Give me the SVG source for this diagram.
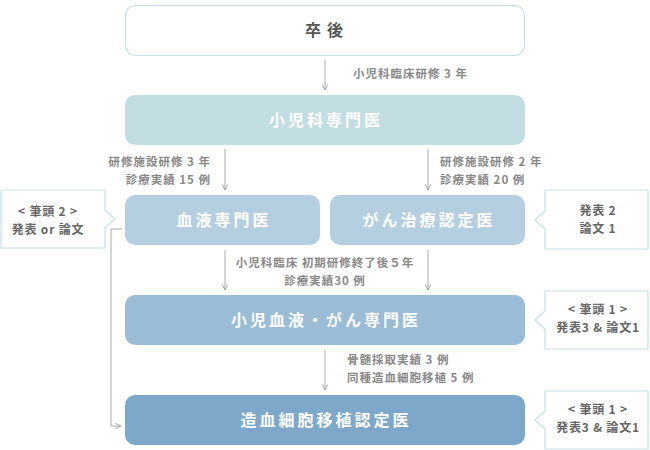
<svg xmlns="http://www.w3.org/2000/svg" width="650" height="450" viewBox="0 0 650 450">
<defs>
<marker id="arr" viewBox="0 0 10 10" refX="9" refY="5" markerWidth="7" markerHeight="7" orient="auto" markerUnits="userSpaceOnUse">
<path d="M1,1 L9,5 L1,9" fill="none" stroke="#999" stroke-width="1.2"/>
</marker>
<style>
text{font-family:"Noto Sans CJK JP","Noto Sans",sans-serif;font-weight:bold}
.node{font-size:16px;fill:#fff;text-anchor:middle;letter-spacing:3px}
.lbl{font-size:11.5px;fill:#888;letter-spacing:1px}
.co{font-size:12px;fill:#666;text-anchor:middle;letter-spacing:0.8px}
.callout{fill:#fff;stroke:#c6dfe7;stroke-width:1.2}
.conn{fill:none;stroke:#aaa;stroke-width:1;marker-end:url(#arr)}
</style>
</defs>
<rect width="650" height="450" fill="#fff"/>

<g id="connectors">
<line class="conn" x1="325" y1="60" x2="325" y2="90"/>
<line class="conn" x1="225" y1="149" x2="225" y2="190"/>
<line class="conn" x1="428" y1="149" x2="428" y2="190"/>
<line class="conn" x1="225" y1="250" x2="225" y2="290"/>
<line class="conn" x1="428" y1="250" x2="428" y2="290"/>
<line class="conn" x1="325" y1="350" x2="325" y2="390"/>
<path class="conn" d="M122,229 H111 V426 H121"/>
</g>

<g id="labels">
<text class="lbl" x="353" y="78">小児科臨床研修 3 年</text>
<text class="lbl" x="211" y="166" text-anchor="end">研修施設研修 3 年</text>
<text class="lbl" x="211" y="184" text-anchor="end">診療実績 15 例</text>
<text class="lbl" x="440" y="166">研修施設研修 2 年</text>
<text class="lbl" x="440" y="184">診療実績 20 例</text>
<text class="lbl" x="325" y="267" text-anchor="middle">小児科臨床 初期研修終了後５年</text>
<text class="lbl" x="325" y="285" text-anchor="middle">診療実績30 例</text>
<text class="lbl" x="347" y="364">骨髄採取実績 3 例</text>
<text class="lbl" x="347" y="382">同種造血細胞移植 5 例</text>
</g>

<g id="n-sotsugo">
<rect x="125.5" y="5.5" width="399" height="50" rx="10" fill="#fff" stroke="#c6dfe7" stroke-width="1.2"/>
<text x="327" y="36" text-anchor="middle" font-size="16" fill="#555" letter-spacing="6">卒後</text>
</g>
<g id="n-shonika">
<rect x="125" y="95" width="400" height="50" rx="10" fill="#c2dee3"/>
<text class="node" x="326" y="126">小児科専門医</text>
</g>
<g id="n-ketsueki">
<rect x="125" y="195" width="195" height="50" rx="10" fill="#b4cfe0"/>
<text class="node" x="224" y="226">血液専門医</text>
</g>
<g id="n-gan">
<rect x="330" y="195" width="195" height="50" rx="10" fill="#b4cfe0"/>
<text class="node" x="429" y="226">がん治療認定医</text>
</g>
<g id="n-shoni-ketsueki">
<rect x="125" y="295" width="400" height="50" rx="10" fill="#9bbcd7"/>
<text class="node" x="326" y="326">小児血液・がん専門医</text>
</g>
<g id="n-zoketsu">
<rect x="125" y="395" width="400" height="50" rx="10" fill="#7da8c9"/>
<text class="node" x="326" y="426">造血細胞移植認定医</text>
</g>

<g id="c-left">
<path class="callout" d="M1,190 H105 V210 L115,219 L105,228 V248 H1 Z"/>
<text class="co" x="48" y="216">&lt; 筆頭 2 &gt;</text>
<text class="co" x="48" y="234">発表 or 論文</text>
</g>
<g id="c-right1">
<path class="callout" d="M545,190 H648 V249 H545 V229 L535,220 L545,211 Z"/>
<text class="co" x="598" y="215">発表 2</text>
<text class="co" x="598" y="233">論文 1</text>
</g>
<g id="c-right2">
<path class="callout" d="M545,291 H648 V349 H545 V329 L535,320 L545,311 Z"/>
<text class="co" x="598" y="314">&lt; 筆頭 1 &gt;</text>
<text class="co" x="598" y="332">発表3 &amp; 論文1</text>
</g>
<g id="c-right3">
<path class="callout" d="M545,391 H648 V449 H545 V429 L535,420 L545,411 Z"/>
<text class="co" x="598" y="414">&lt; 筆頭 1 &gt;</text>
<text class="co" x="598" y="432">発表3 &amp; 論文1</text>
</g>
</svg>
